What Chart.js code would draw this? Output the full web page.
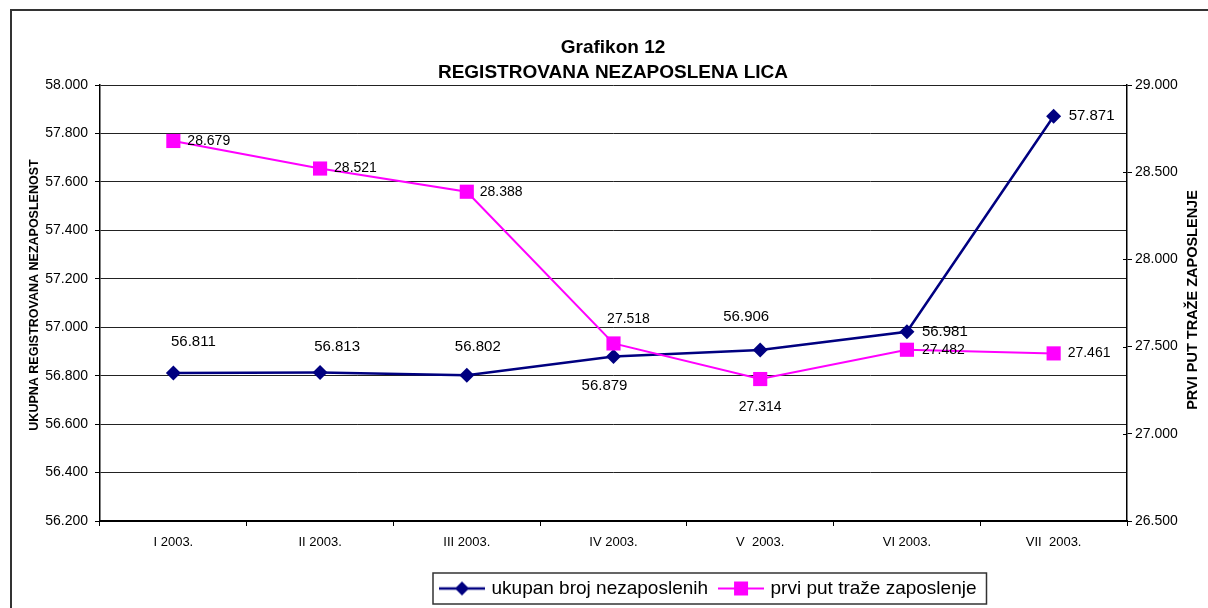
<!DOCTYPE html>
<html>
<head>
<meta charset="utf-8">
<script src="https://cdn.jsdelivr.net/npm/chart.js@4.4.0/dist/chart.umd.min.js"></script>
<style>
  html, body { margin: 0; padding: 0; background: #fff; }
  #wrap { width: 1208px; height: 608px; }
</style>
</head>
<body>
<div id="wrap"><canvas id="myChart" width="1208" height="608"></canvas></div>
<script>
// data
const months = ['I 2003.', 'II 2003.', 'III 2003.', 'IV 2003.', 'V  2003.', 'VI 2003.', 'VII  2003.'];
const ukupno = [56811, 56813, 56802, 56879, 56906, 56981, 57871];   // ukupan broj nezaposlenih (left axis)
const prviPut = [28679, 28521, 28388, 27518, 27314, 27482, 27461];  // prvi put traže zaposlenje (right axis)
const leftAxis = { min: 56200, max: 58000, step: 200 };
const rightAxis = { min: 26500, max: 29000, step: 500 };
const titleLines = ['Grafikon 12', 'REGISTROVANA NEZAPOSLENA LICA'];
const leftTitle = 'UKUPNA REGISTROVANA NEZAPOSLENOST';
const rightTitle = 'PRVI PUT TRAŽE ZAPOSLENJE';
const seriesNames = ['ukupan broj nezaposlenih', 'prvi put traže zaposlenje'];

const FONT = "'Liberation Sans', Arial, sans-serif";
const NAVY = '#000080';
const PINK = '#FF00FF';

// label placement next to each point: [dx, dy, align]
const labelPlacement = [
    [[20, -31, 'center'], [17, -26, 'center'], [11, -28, 'center'], [-9, 29, 'center'], [-14, -33, 'center'], [15, 0, 'left'], [15, 0, 'left']],
    [[14, 0, 'left'], [14, 0, 'left'], [13, 0, 'left'], [15, -24, 'center'], [0, 28, 'center'], [15, 0, 'left'], [14, 0, 'left']]
];
const labelFontSize = [15, 14];

// 56811 -> "56.811"
const fmt = n => String(n).replace(/\B(?=(\d{3})+(?!\d))/g, '.');

// legend symbol: short line with the marker in the middle
function legendMarker(color, shape, lineW) {
    const c = document.createElement('canvas');
    c.width = 46; c.height = 16;
    const g = c.getContext('2d');
    g.strokeStyle = color;
    g.lineWidth = lineW;
    g.beginPath(); g.moveTo(0, 8); g.lineTo(46, 8); g.stroke();
    g.fillStyle = color;
    g.beginPath();
    if (shape === 'diamond') {
        g.moveTo(16, 8); g.lineTo(23, 1); g.lineTo(30, 8); g.lineTo(23, 15); g.closePath();
    } else {
        g.rect(16, 1, 14, 14);
    }
    g.fill();
    return c;
}
const markers = [legendMarker(NAVY, 'diamond', 2.5), legendMarker(PINK, 'square', 2)];

const extras = {
    id: 'extras',
    beforeDraw(chart) {
        const ctx = chart.ctx;
        ctx.save();
        ctx.fillStyle = '#fff';
        ctx.fillRect(0, 0, chart.width, chart.height);
        ctx.strokeStyle = '#333';
        ctx.lineWidth = 2;
        ctx.strokeRect(11, 10, 1300, 700);
        ctx.restore();
    },
    afterUpdate(chart) {
        // legend sits a bit left of centre in the original
        const lg = chart.legend;
        const hb = lg.legendHitBoxes;
        if (!hb || !hb.length) return;
        const dx = 442 - hb[0].left;
        lg.left += dx;
        lg.right += dx;
        hb.forEach(h => { h.left += dx; });
    },
    afterDatasetsDraw(chart) {
        const ctx = chart.ctx;
        ctx.save();
        ctx.fillStyle = '#000';
        ctx.textBaseline = 'middle';
        [ukupno, prviPut].forEach((vals, d) => {
            ctx.font = labelFontSize[d] + 'px ' + FONT;
            chart.getDatasetMeta(d).data.forEach((pt, i) => {
                const [dx, dy, align] = labelPlacement[d][i];
                ctx.textAlign = align;
                ctx.fillText(fmt(vals[i]), pt.x + dx, pt.y + dy);
            });
        });
        ctx.restore();
    },
    afterDraw(chart) {
        const ctx = chart.ctx;
        const area = chart.chartArea;
        ctx.save();
        // axis titles, both read bottom to top
        ctx.fillStyle = '#000';
        ctx.textAlign = 'center';
        ctx.textBaseline = 'middle';
        ctx.font = 'bold 12.5px ' + FONT;
        ctx.save(); ctx.translate(35, 295); ctx.rotate(-Math.PI / 2); ctx.fillText(leftTitle, 0, 0); ctx.restore();
        ctx.font = 'bold 14.5px ' + FONT;
        ctx.save(); ctx.translate(1193, 300); ctx.rotate(-Math.PI / 2); ctx.fillText(rightTitle, 0, 0); ctx.restore();

        // right axis ticks cross the axis line
        const r = chart.scales.y1;
        ctx.strokeStyle = '#000';
        ctx.lineWidth = 1;
        r.ticks.forEach((t, i) => {
            const y = Math.round(r.getPixelForTick(i)) + 0.5;
            ctx.beginPath(); ctx.moveTo(area.right - 4, y); ctx.lineTo(area.right, y); ctx.stroke();
        });

        // frame round the legend
        const hb = chart.legend.legendHitBoxes;
        if (hb && hb.length) {
            const last = hb[hb.length - 1];
            const cy = hb[0].top + hb[0].height / 2;
            const l = hb[0].left - 9;
            const rr = last.left + last.width + 10;
            ctx.strokeStyle = '#333';
            ctx.lineWidth = 1.5;
            ctx.strokeRect(l, cy - 15.5, rr - l, 31);
        }
        ctx.restore();
    }
};

const ctx = document.getElementById('myChart').getContext('2d');
window.myChart = new Chart(ctx, {
    type: 'line',
    data: {
        labels: months,
        datasets: [{
            label: seriesNames[0],
            data: ukupno,
            yAxisID: 'y',
            borderColor: NAVY,
            backgroundColor: NAVY,
            borderWidth: 2.5,
            pointStyle: 'rectRot',
            pointRadius: 7.5,
            pointBorderWidth: 0,
            tension: 0,
            order: 2
        }, {
            label: seriesNames[1],
            data: prviPut,
            yAxisID: 'y1',
            borderColor: PINK,
            backgroundColor: PINK,
            borderWidth: 2,
            pointStyle: 'rect',
            pointRadius: 10,
            pointBorderWidth: 0,
            tension: 0,
            order: 1
        }]
    },
    options: {
        responsive: false,
        animation: false,
        devicePixelRatio: 1,
        layout: { padding: { left: 18, right: 0, top: 0, bottom: 0 } },
        plugins: {
            tooltip: { enabled: false },
            title: {
                display: true,
                text: titleLines,
                color: '#000',
                font: { family: FONT, size: 19, weight: 'bold', lineHeight: '25px' },
                padding: { top: 35, bottom: 0 }
            },
            legend: {
                position: 'bottom',
                align: 'start',
                labels: {
                    color: '#000',
                    font: { family: FONT, size: 19 },
                    usePointStyle: true,
                    pointStyleWidth: 40,
                    padding: 13,
                    generateLabels: chart => chart.data.datasets.map((ds, i) => ({
                        text: ds.label,
                        pointStyle: markers[i],
                        fillStyle: ds.borderColor,
                        strokeStyle: ds.borderColor,
                        lineWidth: 0,
                        hidden: false,
                        datasetIndex: i,
                        fontColor: '#000'
                    }))
                }
            }
        },
        scales: {
            x: {
                offset: true,
                grid: { display: true, offset: true, drawOnChartArea: false, drawTicks: true, tickLength: 5, tickColor: '#000' },
                border: { color: '#000', width: 2 },
                ticks: { color: '#000', font: { family: FONT, size: 13 }, padding: 9, maxRotation: 0, autoSkip: false },
                afterFit: s => { s.height = 45; }
            },
            y: {
                position: 'left',
                min: leftAxis.min,
                max: leftAxis.max,
                ticks: { stepSize: leftAxis.step, callback: v => fmt(v), color: '#000', font: { family: FONT, size: 14 }, padding: 7 },
                grid: { color: '#222', lineWidth: 1, tickColor: '#000', tickLength: 5 },
                border: { color: '#000', width: 1.5 },
                afterFit: s => { s.width = 82; }
            },
            y1: {
                position: 'right',
                min: rightAxis.min,
                max: rightAxis.max,
                ticks: { stepSize: rightAxis.step, callback: v => fmt(v), color: '#000', font: { family: FONT, size: 14 }, padding: 3 },
                grid: { drawOnChartArea: false, tickColor: '#000', tickLength: 5 },
                border: { color: '#000', width: 1.5 },
                afterFit: s => { s.width = 81; }
            }
        }
    },
    plugins: [extras]
});
</script>
</body>
</html>
